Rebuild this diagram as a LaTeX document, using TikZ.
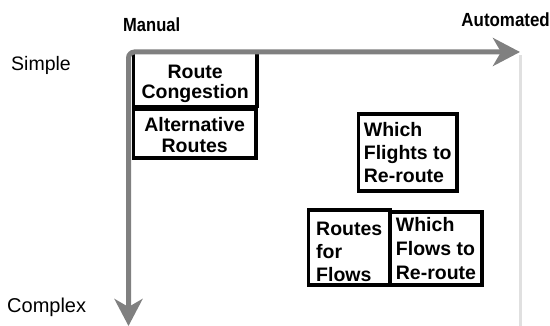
\documentclass[tikz,border=0pt]{standalone}
\usepackage{fontspec}
\setmainfont{Liberation Sans}
\usetikzlibrary{arrows.meta}
\definecolor{axisgray}{HTML}{808080}
\definecolor{lightline}{HTML}{E0E0E0}
\tikzset{
  box/.style={draw=black, line width=3.5pt, fill=white, inner sep=0pt,
    font=\bfseries\fontsize{19.5}{23}\selectfont},
  axislabel/.style={inner sep=0pt, font=\fontsize{19.5}{23}\selectfont},
  endlabel/.style={inner sep=0pt, font=\bfseries\fontsize{19}{23}\selectfont},
  axisarrow/.style={draw=axisgray, line width=5pt, rounded corners=6pt,
    {Stealth[length=27pt,width=28pt,inset=8pt]}-{Stealth[length=27pt,width=28pt,inset=8pt]}},
}
\begin{document}
\begin{tikzpicture}[x=1pt,y=-1pt]
\useasboundingbox (0,0) rectangle (550,326);
% light guide line
\coordinate (lgtop) at (520,55);
\coordinate (lgbot) at (520,326);
\draw[lightline, line width=3pt] (lgtop) -- (lgbot);
% boxes
\node[box, minimum width=123.7pt, minimum height=54.5pt, align=center] (rc) at (195.2,79.25)
  {\rule{0pt}{22pt}Route\\[-3pt]Congestion};
\node[box, minimum width=122.7pt, minimum height=49pt, align=center] (ar) at (194.7,133.5)
  {\rule{0pt}{18pt}Alternative\\[-2pt]Routes};
\node[box, minimum width=98.5pt, minimum height=77pt, align=left] (wf) at (407.75,152.5)
  {Which\\Flights to\\Re-route};
\node[box, minimum width=92pt, minimum height=73pt, align=left,
  font=\bfseries\fontsize{19.5}{24}\selectfont] (wfl) at (436,248.5)
  {Which\\Flows to\\Re-route};
\node[box, minimum width=81.5pt, minimum height=75pt, align=left] (rff) at (349.25,247.5)
  {\rule{0pt}{22pt}Routes\\for\\Flows};
% axes
\coordinate (vend) at (128.5,326);
\coordinate (corner) at (128.5,52);
\coordinate (hend) at (520,52);
\draw[axisarrow] (vend) -- (corner) -- (hend);
% labels
\node[axislabel, anchor=base west] (simple) at (11,71) {Simple};
\node[axislabel, anchor=base west, font=\fontsize{20}{23}\selectfont] (complex) at (7,313) {Complex};
\node[endlabel, anchor=base west] (manual) at (123,32) {\scalebox{0.87}[1]{Manual}};
\node[endlabel, anchor=base east] (auto) at (550,27) {\scalebox{0.89}[1]{Automated}};
\end{tikzpicture}
\end{document}
